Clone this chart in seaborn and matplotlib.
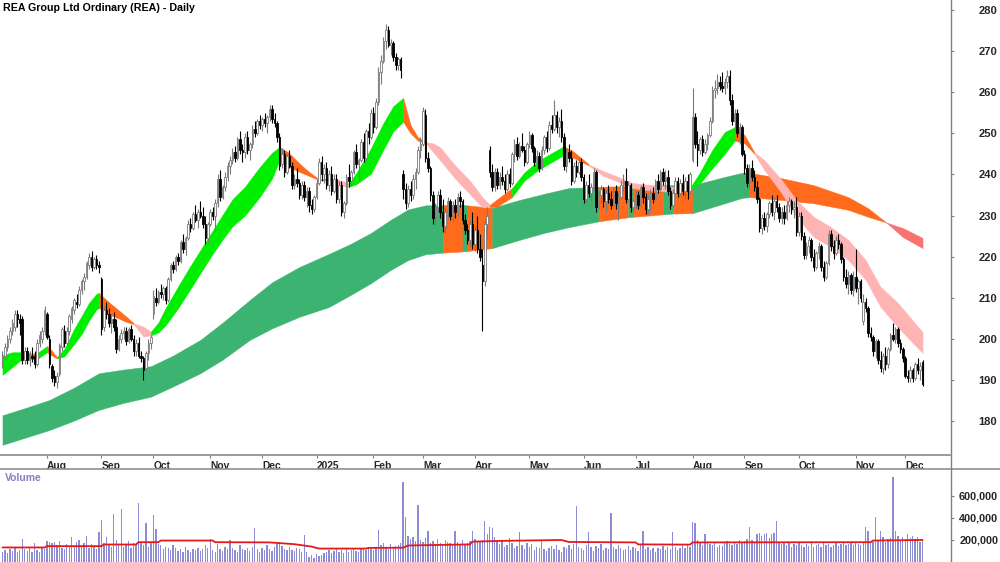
import numpy as np
import pandas as pd
import matplotlib
matplotlib.use("Agg")
import matplotlib.pyplot as plt
from matplotlib.lines import Line2D
import seaborn as sns

# Daily candles, REA (Jul 2024 - Dec 2025)
opens = [
    195, 196, 198, 200, 202, 203, 206, 205, 205, 195,
    197, 195, 196, 196, 194, 199, 200, 202, 206, 200,
    193.5, 191, 189.5, 191.5, 198, 202, 199, 202, 205, 207,
    209, 208.5, 212, 214, 215, 218, 220, 217.5, 219.5, 218,
    214.5, 203, 207, 206, 204, 205, 203, 197.5, 200, 201.5,
    202, 199.5, 202.5, 200, 197, 199, 196, 195.5, 193, 196.5,
    199, 206, 210, 209, 211.5, 211, 212.5, 209.5, 214.5, 218,
    217, 220, 219, 223.5, 222, 224.5, 228, 227, 230.5, 229,
    231, 230, 228, 224.5, 228, 231, 230, 233, 239, 234.5,
    237, 239.5, 242, 243.5, 245.5, 244, 248.5, 246, 245.5, 249,
    246, 247.5, 251, 250, 253, 252, 253.5, 252.5, 254, 256,
    253.5, 252.5, 249, 242.5, 245, 240.5, 244.5, 242, 237.5, 239,
    238, 235, 237.5, 234.5, 236, 232.5, 231.5, 234.5, 238, 243,
    240, 241.5, 237.5, 240, 236, 239, 234, 237.5, 231, 233,
    239.5, 238.5, 240.5, 245.5, 242.5, 243.5, 248, 244, 250.5, 249,
    255, 251.5, 257.5, 265, 267.5, 272.5, 275, 271.5, 272, 268.5,
    266.5, 268, 240, 236.5, 233, 236.5, 235, 239, 240.5, 246,
    247.5, 254.5, 244, 241.5, 235, 229.5, 232, 235, 231, 227.5,
    231, 233.5, 230, 232.5, 231, 234.5, 233.5, 229, 226.5, 224,
    228, 223, 226.5, 222, 218, 214, 228, 246, 240.5, 237,
    240.5, 237.5, 239.5, 238.5, 236.5, 240, 238, 245, 247.5, 244.5,
    247, 246, 243, 247.5, 249.5, 246.5, 243, 244.5, 241.5, 246,
    249, 246.5, 252, 251, 254.5, 251.5, 253, 249, 242, 245.5,
    244, 238.5, 242, 240.5, 243, 239.5, 234, 237.5, 235.5, 237,
    240.5, 232, 235, 236.5, 233.5, 235.5, 234, 232.5, 236, 233,
    234.5, 237.5, 238.5, 234, 237.5, 232, 233.5, 235, 232.5, 237,
    234.5, 231.5, 234, 235.5, 234, 238.5, 236.5, 240.5, 238.5, 239.5,
    236, 232.5, 235.5, 238.5, 235.5, 238, 236, 238.5, 236, 243.5,
    254, 247.5, 246, 248.5, 245.5, 247.5, 249.5, 253, 260.5, 261,
    262.5, 261.5, 261, 262.5, 264, 258, 253, 255, 250, 251.5,
    245, 241.5, 238, 241.5, 239.5, 237, 234, 227, 229.5, 227.5,
    230.5, 233, 231, 233.5, 232, 229.5, 231, 229.5, 232.5, 233.5,
    231.5, 232, 226, 230, 225, 220.5, 222.5, 224, 220, 217.5,
    221, 222.5, 217.5, 215, 218.5, 225.5, 222.5, 221, 224, 223,
    219.5, 215, 213.5, 215.5, 212, 215, 212.5, 214, 204.5, 209,
    207.5, 201.5, 200.5, 197, 199.5, 195, 193, 196, 194, 197.5,
    201, 200, 202.5, 199, 197.5, 195.5, 191, 190.5, 192.5, 190.5,
    194, 192.5, 194.5,
]
highs = [
    197, 199, 201, 203, 205, 207, 207, 206, 205.5, 198,
    198, 197, 198, 197, 200, 202, 203, 208, 206.5, 201,
    194, 192.5, 192, 199, 203, 203.5, 203, 206, 208, 210,
    211, 213, 214.5, 216, 219, 221, 221.5, 220, 220.5, 219,
    215, 208, 209, 207.5, 206, 206.5, 205, 201, 202.5, 203,
    203, 203, 203.5, 201, 200, 200.5, 197, 196, 197, 200,
    201, 212, 212.5, 212, 213.5, 213, 213, 215, 218.5, 219,
    220.5, 221, 224, 225.5, 225, 229, 229.5, 231, 232.5, 231.5,
    233.5, 232, 230, 228.5, 231.5, 232, 234, 240, 241, 237.5,
    240.5, 243, 244.5, 246.5, 247, 249, 250.5, 247.5, 250, 250.5,
    248, 252, 253, 253.5, 254.5, 254, 255, 254.5, 257, 257,
    255, 253, 250, 246.5, 246, 245, 246, 243, 240, 241.5,
    239, 238.5, 238.5, 237, 237, 234, 235, 239, 244, 244.5,
    242.5, 243, 241, 242, 240, 240, 238.5, 238.5, 233.5, 240,
    242.5, 241, 246, 247.5, 244, 248.5, 250, 251, 252.5, 256,
    256.5, 258.5, 266, 269, 273.5, 276.5, 276, 273, 272.5, 269.5,
    268.5, 268.5, 241, 238, 237.5, 238.5, 240, 241.5, 247, 249,
    256.5, 256, 245.5, 242, 236, 233, 236, 236.5, 234, 232,
    234.5, 234, 233.5, 234, 235.5, 236, 234, 230.5, 228, 229,
    231, 227.5, 230, 225.5, 222, 229, 232, 247, 242.5, 241.5,
    241.5, 240.5, 242, 240, 241, 241.5, 245.5, 248.5, 249, 248,
    250, 247, 248, 250.5, 250, 247, 246, 245.5, 247, 249.5,
    250.5, 253, 254.5, 258, 255.5, 254, 256, 250, 246.5, 247.5,
    246, 243, 243.5, 244, 244, 240, 238.5, 240, 238, 241.5,
    241, 236, 237.5, 237, 236.5, 237.5, 236, 237, 237.5, 235.5,
    238.5, 240, 241.5, 238.5, 238, 234, 236, 236, 237.5, 238,
    235.5, 235, 236.5, 237, 239, 240, 241, 241.5, 241, 241,
    237, 236.5, 239.5, 239.5, 239, 240, 239.5, 240, 240.5, 261,
    255, 250.5, 249, 249.5, 248.5, 250, 254, 261.5, 263, 264.5,
    264, 265, 263.5, 265.5, 265.5, 259.5, 256, 256, 252.5, 252,
    246, 242.5, 242.5, 243.5, 241, 238.5, 234.5, 230.5, 231, 231,
    233.5, 235, 234.5, 235, 233, 232, 232.5, 233.5, 234.5, 234,
    233.5, 234.5, 231, 231, 226, 223.5, 225, 224.5, 222, 221.5,
    223.5, 223, 219, 219, 226.5, 226.5, 224, 225, 225.5, 223.5,
    220, 217, 216.5, 216, 216.5, 222, 214.5, 214.5, 211, 210,
    208, 203, 201, 200, 200, 197, 196.5, 198, 198, 201.5,
    204, 203, 203, 200, 198, 196, 192.5, 193.5, 193, 194.5,
    195.5, 194.5, 195,
]
lows = [
    193, 195, 197, 199, 201, 202, 203, 201, 194, 194,
    194, 193.5, 194.5, 193, 193.5, 198, 199, 201, 200, 193,
    189.5, 188.5, 188, 191, 197, 198, 198.5, 201, 204, 206,
    207.5, 208, 211, 212, 214.5, 217, 216.5, 217, 217, 216,
    201, 202, 205, 203, 201.5, 202, 196.5, 197, 199, 200,
    198.5, 199, 199.5, 196, 196, 195.5, 194.5, 190, 192.5, 195,
    197.5, 205, 208, 208.5, 210, 209.5, 208.5, 209, 214, 216,
    216.5, 218, 218.5, 221, 220.5, 224, 226, 226.5, 228.5, 227,
    229.5, 227, 223, 223.5, 227.5, 229, 226, 232, 233.5, 234,
    236, 238.5, 240, 242.5, 243, 243.5, 245, 243, 244, 245,
    243.5, 246.5, 249, 249.5, 251, 250.5, 251.5, 250, 253, 252.5,
    251.5, 248, 241, 241.5, 239.5, 240, 241.5, 236.5, 236.5, 237,
    234, 234, 233.5, 232, 231, 230.5, 231, 234, 237.5, 238.5,
    238, 236.5, 236, 235, 235.5, 233, 233, 230, 229.5, 232.5,
    237, 237.5, 240, 241.5, 238.5, 243, 243, 243.5, 247.5, 248.5,
    250, 251, 257, 262, 267, 270.5, 271, 269, 267.5, 265.5,
    265.5, 263.5, 234, 231.5, 232, 233.5, 234, 236.5, 240, 244,
    247, 243, 240.5, 233.5, 228, 227.5, 231, 229.5, 226, 225.5,
    229.5, 229, 228.5, 229.5, 230, 232, 228, 225.5, 223, 222.5,
    222, 221.5, 221, 219, 202, 213, 224, 239.5, 236, 236,
    236.5, 236.5, 237.5, 235.5, 236, 237, 237.5, 243, 243.5, 244,
    245.5, 242, 242.5, 246.5, 245.5, 242, 241, 240.5, 241, 245,
    245.5, 246, 250, 250.5, 250, 249, 248, 241, 240.5, 243,
    237.5, 238, 239.5, 240, 238.5, 233, 233, 234.5, 233.5, 236,
    231, 231.5, 233, 232, 231, 233, 231.5, 232, 231.5, 229,
    234, 236, 233, 233.5, 231, 230.5, 231.5, 231.5, 232, 233,
    230.5, 230.5, 231, 233, 233.5, 235.5, 236, 237.5, 236.5, 235,
    231.5, 232, 235, 234.5, 235, 235, 233.5, 234, 235.5, 243,
    246.5, 242, 245, 244.5, 245, 246, 249, 252.5, 258.5, 259.5,
    260.5, 260, 259.5, 261, 257, 252, 250.5, 249, 247.5, 244.5,
    240, 237, 236.5, 238.5, 236, 233, 226, 225.5, 226.5, 226,
    229.5, 230, 229, 231, 228.5, 228, 228, 229, 231, 230.5,
    229.5, 225, 225, 224, 219.5, 219.5, 221, 219, 216.5, 217,
    219.5, 216.5, 214, 214.5, 218, 221.5, 219.5, 220.5, 222, 218.5,
    214, 212.5, 211, 211, 210.5, 211.5, 208.5, 209, 203.5, 206.5,
    200.5, 199.5, 196, 195.5, 194, 192, 191.5, 192.5, 193, 197,
    199.5, 199, 198, 196.5, 194.5, 190.5, 189.5, 189.5, 189.5, 190,
    191.5, 190, 188.5,
]
closes = [
    196, 198, 200, 202, 204, 206, 205, 204, 195, 197,
    195, 196.5, 195.5, 194, 199, 201, 202, 207, 200.5, 194,
    190.5, 189.5, 191, 198.5, 202.5, 199, 202, 205.5, 207.5, 209.5,
    208.5, 212, 214, 215, 218.5, 220, 217.5, 219.5, 218, 217.5,
    202.5, 207, 206, 204, 205, 203, 197.5, 200, 201.5, 202,
    199.5, 202.5, 200, 197, 199, 196, 195.5, 192.5, 196.5, 199,
    200.5, 210.5, 209, 211.5, 211, 212.5, 209.5, 214.5, 218, 217,
    220, 219, 223.5, 222, 224.5, 228, 227, 230.5, 229, 231,
    230, 228, 224.5, 228, 231, 230, 233, 239, 234.5, 237,
    239.5, 242, 243.5, 245.5, 244, 248.5, 246, 245.5, 249, 246,
    247.5, 251, 250, 253, 252, 253.5, 252.5, 254, 256, 253.5,
    252.5, 249, 242, 245, 240.5, 244.5, 242, 237.5, 239, 238,
    235, 237.5, 234.5, 236, 232.5, 231.5, 234.5, 238, 243, 240,
    241.5, 237.5, 240, 236, 239, 234, 237.5, 231, 233, 239.5,
    238.5, 240.5, 245.5, 242.5, 243.5, 248, 244, 250.5, 249, 255,
    251.5, 257.5, 265, 267.5, 272.5, 275, 271.5, 272, 268.5, 266.5,
    268, 265.5, 236.5, 233, 236.5, 235, 239, 240.5, 246, 247.5,
    255.5, 244, 241.5, 235, 229.5, 232, 235, 231, 227.5, 231,
    233.5, 230, 232.5, 231, 234.5, 233.5, 229, 226.5, 224, 228,
    223, 226.5, 222, 220, 214, 228, 230, 240.5, 237, 240.5,
    237.5, 239.5, 238.5, 236.5, 240, 238, 245, 247.5, 244.5, 247,
    246, 243, 247.5, 249.5, 246.5, 243, 244.5, 241.5, 246, 249,
    246.5, 252, 251, 254.5, 251.5, 253, 249, 242, 245.5, 244,
    238.5, 242, 240.5, 243, 239.5, 234, 237.5, 235.5, 237, 240.5,
    232, 235, 236.5, 233.5, 235.5, 234, 232.5, 236, 233, 234.5,
    237.5, 238.5, 234, 237.5, 232, 233.5, 235, 232.5, 237, 234.5,
    231.5, 234, 235.5, 234, 238.5, 236.5, 240.5, 238.5, 239.5, 236,
    232.5, 235.5, 238.5, 235.5, 238, 236, 238.5, 236, 240, 254,
    247.5, 246, 248.5, 245.5, 247.5, 249.5, 253, 260.5, 261, 262.5,
    261.5, 261, 262.5, 264, 258, 253, 255, 250, 251.5, 245,
    241.5, 238, 241.5, 239.5, 237, 234, 227, 229.5, 227.5, 230.5,
    233, 231, 233.5, 232, 229.5, 231, 229.5, 232.5, 233.5, 231.5,
    232, 226, 230, 225, 220.5, 222.5, 224, 220, 217.5, 221,
    222.5, 217.5, 215, 218.5, 225.5, 222.5, 221, 224, 223, 219.5,
    215, 213.5, 215.5, 212, 215, 212.5, 214, 210, 209, 207.5,
    201.5, 200.5, 197, 199.5, 195, 193, 196, 194, 197.5, 201,
    200, 202.5, 199, 197.5, 195.5, 191, 190.5, 192.5, 190.5, 194,
    192.5, 193.5, 189,
]

# Daily volume in thousands of shares
volume_k = [
    95, 110, 85, 120, 100, 130, 90, 105, 205, 115,
    100, 125, 90, 170, 110, 95, 140, 120, 190, 180,
    175, 185, 150, 190, 130, 120, 160, 145, 230, 140,
    180, 203, 150, 170, 239, 130, 160, 145, 120, 269,
    382, 175, 230, 150, 140, 436, 200, 160, 482, 140,
    150, 195, 130, 170, 160, 536, 180, 150, 351, 140,
    170, 427, 300, 160, 150, 120, 140, 130, 110, 150,
    125, 100, 115, 95, 140, 110, 90, 120, 105, 130,
    100, 115, 150, 130, 209, 110, 95, 160, 120, 100,
    140, 115, 200, 130, 105, 90, 150, 120, 110, 125,
    100, 140, 306, 115, 95, 130, 110, 150, 120, 100,
    135, 160, 180, 145, 120, 105, 140, 110, 100, 130,
    115, 95, 248, 90, 45, 60, 40, 70, 55, 65,
    80, 95, 110, 85, 100, 120, 90, 105, 80, 115,
    95, 110, 125, 100, 90, 130, 115, 105, 140, 120,
    110, 135, 291, 150, 175, 140, 120, 160, 130, 145,
    155, 170, 731, 406, 240, 210, 230, 190, 521, 200,
    180, 220, 285, 170, 190, 160, 210, 175, 150, 200,
    185, 170, 165, 285, 180, 150, 200, 160, 175, 190,
    285, 210, 180, 195, 200, 369, 250, 318, 310, 230,
    180, 160, 195, 140, 150, 215, 170, 130, 145, 269,
    150, 120, 175, 135, 160, 110, 140, 125, 190, 115,
    100, 130, 145, 120, 155, 110, 95, 140, 125, 150,
    120, 160, 506, 140, 130, 110, 150, 269, 135, 100,
    145, 125, 160, 110, 130, 120, 442, 140, 115, 150,
    130, 105, 120, 145, 110, 135, 125, 100, 150, 278,
    120, 140, 110, 130, 95, 125, 115, 145, 105, 135,
    120, 269, 140, 110, 130, 150, 125, 160, 140, 361,
    351, 200, 175, 150, 254, 180, 160, 150, 170, 140,
    155, 145, 170, 190, 160, 150, 180, 165, 200, 175,
    190, 210, 321, 200, 185, 250, 265, 240, 255, 260,
    220, 250, 260, 375, 180, 160, 175, 150, 170, 140,
    165, 150, 180, 155, 140, 160, 145, 170, 135, 150,
    160, 140, 175, 150, 165, 135, 155, 180, 145, 160,
    170, 150, 165, 185, 155, 175, 160, 150, 170, 315,
    278, 190, 180, 412, 200, 285, 230, 180, 210, 220,
    771, 285, 240, 200, 230, 210, 250, 220, 240, 210,
    230, 180, 210,
]

# Volume moving average (red line), read at its turning points
volma_idx = [0, 17, 18, 40, 41, 54, 55, 63, 64, 85, 86, 108, 118, 125, 128,
             147, 148, 162, 164, 189, 190, 202, 226, 229, 256, 257, 278, 279,
             351, 352, 372]
volma_k = [132, 132, 144, 144, 159, 159, 180, 180, 195, 195, 180, 178, 162, 140, 122,
           122, 128, 130, 150, 160, 185, 192, 200, 182, 178, 160, 158, 178,
           180, 195, 200]

# Short-term ribbon edges and trend state (G up, O mixed, P down)
short_idx = [0, 4, 8, 11, 14, 18, 20, 22, 25, 29, 32, 35, 38, 39, 43, 47, 50, 53, 57, 60,
             63, 66, 71, 76, 80, 85, 89, 93, 98, 104, 109, 112, 116, 119, 123, 128, 133, 137, 140, 143,
             149, 154, 158, 162, 165, 168, 171, 174, 177, 183, 189, 194, 197, 200, 206, 211, 216, 220, 227, 231,
             237, 243, 247, 255, 263, 271, 278, 282, 287, 292, 296, 300, 304, 308, 315, 321, 328, 335, 342, 349,
             355, 362, 372]
short_hi = [196.1, 196.8, 196.8, 196.4, 196.6, 198.3, 197.2, 195.6, 197.6, 202.5, 205.6, 208.8, 211.0, 211.2, 209.0, 207.0, 205.5, 203.9, 203.0, 201.8,
            204.0, 207.6, 212.8, 217.8, 221.6, 226.4, 230.2, 234.0, 237.0, 241.8, 245.3, 246.7, 245.2, 243.3, 241.1, 238.8, 239.0, 238.5, 237.9, 240.3,
            246.4, 252.5, 256.6, 258.6, 252.0, 249.0, 247.9, 247.6, 246.6, 242.2, 238.5, 234.5, 232.6, 234.0, 236.7, 240.5, 243.0, 244.5, 246.9, 245.5,
            242.5, 240.8, 239.9, 237.9, 237.4, 237.0, 236.8, 240.5, 246.0, 250.3, 251.5, 249.6, 245.4, 243.5, 238.7, 233.8, 229.7, 227.2, 224.1, 219.2,
            212.7, 208.8, 201.7]
short_lo = [191.3, 193.2, 195.2, 195.2, 195.1, 196.8, 196.0, 195.3, 195.8, 198.8, 201.2, 204.5, 207.2, 207.6, 206.0, 205.0, 204.2, 203.6, 200.6, 200.9,
            201.6, 203.4, 207.5, 212.2, 216.0, 220.7, 224.2, 227.4, 230.0, 234.5, 239.0, 243.5, 241.8, 240.9, 239.9, 238.6, 238.6, 237.3, 237.0, 237.6,
            240.2, 246.0, 250.5, 252.8, 250.0, 248.2, 247.7, 245.5, 243.4, 239.0, 235.2, 232.0, 232.0, 232.2, 234.5, 238.5, 240.8, 242.3, 244.7, 244.0,
            242.2, 239.6, 238.7, 236.7, 236.0, 235.8, 236.4, 237.8, 241.5, 245.0, 248.2, 247.6, 245.0, 241.1, 235.5, 229.7, 224.8, 222.4, 219.2, 214.4,
            207.8, 202.9, 196.6]
short_state = list("GGOOGOOGGGGGGOOOOPPG"
                   "GGGGGGGGGGGOOOOGPPGG"
                   "GGGOOOPPPPPPOOGGGGOO"
                   "PPPPPPGGGGOOPPPPPPPP"
                   "PPP")

# Long-term ribbon edges and trend state (G up, O mixed, R down)
long_idx = [0, 9, 19, 29, 39, 49, 60, 69, 80, 89, 100, 109, 120, 132, 141, 149, 157, 164, 171, 178,
            186, 188, 198, 209, 219, 229, 241, 253, 255, 267, 271, 279, 292, 299, 302, 315, 328, 342, 350, 357,
            364, 372]
long_hi = [181.5, 183.2, 185.2, 188.2, 191.7, 192.6, 193.4, 196.0, 199.8, 204.0, 209.5, 213.8, 217.5, 220.7, 223.2, 225.8, 229.0, 231.5, 232.5, 232.6,
           232.6, 232.5, 231.9, 233.8, 235.3, 236.7, 237.0, 237.2, 237.2, 237.4, 237.4, 237.4, 239.4, 240.4, 240.4, 239.1, 237.4, 234.5, 231.8, 228.5,
           224.8, 222.1]
long_lo = [174.3, 176.0, 177.9, 180.2, 182.8, 184.5, 186.0, 188.5, 191.7, 195.0, 199.8, 202.6, 205.4, 207.8, 210.8, 213.6, 216.8, 219.2, 220.6, 221.0,
           221.3, 221.4, 222.1, 224.1, 225.8, 227.2, 228.6, 229.6, 229.7, 230.3, 230.5, 230.6, 233.0, 234.3, 234.5, 233.8, 233.0, 231.4, 229.7, 228.4,
           227.0, 224.6]
long_state = list("GGGGGGGGGGGGGGGGGGGO"
                  "GOGGGGOGOGOGGGOOOOOR"
                  "RR")

price_ticks = [180, 190, 200, 210, 220, 230, 240, 250, 260, 270, 280]
volume_ticks = [200000, 400000, 600000]

short_colors = {"G": "#00ee00", "O": "#ff6a1c", "P": "#ffb4b4"}
long_colors = {"G": "#3cb371", "O": "#ff6a1c", "R": "#f87272"}

assert len(opens) == len(highs) == len(lows) == len(closes) == len(volume_k)

sns.set_theme(style="white")
plt.rcParams["font.family"] = ["Liberation Sans", "DejaVu Sans"]

n = len(closes)
dates = pd.bdate_range(end="2025-12-10", periods=n)
df = pd.DataFrame({"date": dates, "open": opens, "high": highs, "low": lows,
                   "close": closes, "volume": np.array(volume_k) * 1000})
df["i"] = np.arange(n)

fig = plt.figure(figsize=(10, 5.62), dpi=100)
ax = fig.add_axes([0, 107 / 562, 0.951, 455 / 562])
axv = fig.add_axes([0, 0, 0.951, 93 / 562])


def draw_ribbon(axis, idx, hi, lo, states, colors, z):
    a = 0
    for k in range(1, len(idx)):
        if k == len(idx) - 1 or states[k] != states[a]:
            col = colors[states[a]]
            axis.fill_between(idx[a:k + 1], lo[a:k + 1], hi[a:k + 1],
                              color=col, ec=col, lw=0.3, zorder=z)
            a = k


draw_ribbon(ax, long_idx, long_hi, long_lo, long_state, long_colors, 1)
draw_ribbon(ax, short_idx, short_hi, short_lo, short_state, short_colors, 2)

# candles
up = df["close"] >= df["open"]
dn = ~up
ax.vlines(df.loc[up, "i"], df.loc[up, "low"], df.loc[up, "high"], color="#7a7a7a", lw=0.8, zorder=3)
ax.vlines(df.loc[dn, "i"], df.loc[dn, "low"], df.loc[dn, "high"], color="black", lw=0.8, zorder=3)
ax.bar(df.loc[up, "i"], df.loc[up, "close"] - df.loc[up, "open"], bottom=df.loc[up, "open"],
       width=0.62, color="white", edgecolor="#7a7a7a", lw=0.6, zorder=4)
ax.bar(df.loc[dn, "i"], df.loc[dn, "open"] - df.loc[dn, "close"], bottom=df.loc[dn, "close"],
       width=0.62, color="black", edgecolor="black", lw=0.6, zorder=4)

# volume
axv.bar(df["i"], df["volume"], width=0.55, color="#8c8cd4", lw=0)
sns.lineplot(x=volma_idx, y=np.array(volma_k) * 1000, ax=axv, color="#e4191c", lw=1.3)

# month ticks
month_pos, month_lab = [], []
for k in range(1, n):
    if dates[k].month != dates[k - 1].month:
        month_pos.append(k)
        month_lab.append(str(dates[k].year) if dates[k].month == 1 else dates[k].strftime("%b"))

for a in (ax, axv):
    a.set_xlim(-1, 383.5)
    a.set_facecolor("white")
    for s in ("top", "left"):
        a.spines[s].set_visible(False)
    a.spines["right"].set_color("#808080")
    a.spines["right"].set_linewidth(1.0)
    a.yaxis.tick_right()
    a.set_xlabel("")
    a.set_ylabel("")

ax.set_ylim(171.83, 282.4)
ax.spines["bottom"].set_color("#9a9a9a")
ax.spines["bottom"].set_linewidth(1.4)
ax.set_xticks(month_pos)
ax.set_xticklabels(month_lab, ha="left", fontweight="bold", fontsize=7.4)
ax.tick_params(axis="x", length=2.5, width=0.8, color="#808080", pad=1.5, direction="out", bottom=True)
ax.set_yticks(price_ticks)
ax.set_yticklabels([str(t) for t in price_ticks], fontweight="bold", fontsize=8)
ax.tick_params(axis="y", length=2.5, width=0.8, color="#808080", pad=30.6, direction="out", right=True)
for lbl in ax.get_yticklabels():
    lbl.set_horizontalalignment("right")

axv.set_ylim(0, 845000)
axv.spines["bottom"].set_visible(False)
axv.set_xticks([])
axv.set_yticks(volume_ticks)
axv.set_yticklabels([f"{t:,}" for t in volume_ticks], fontweight="bold", fontsize=7.8)
axv.tick_params(axis="y", length=2.5, width=0.8, color="#808080", pad=31.5, direction="out", right=True)
for lbl in axv.get_yticklabels():
    lbl.set_horizontalalignment("right")

# separator lines between the panels
fig.add_artist(Line2D([0, 1], [93 / 562, 93 / 562], transform=fig.transFigure, color="#909090", lw=1.2))
fig.add_artist(Line2D([0.951, 0.951], [93 / 562, 107 / 562], transform=fig.transFigure, color="#808080", lw=1.0))

fig.text(0.003, 1 - 8 / 562, "REA Group Ltd Ordinary (REA) - Daily", fontsize=7.7,
         fontweight="bold", va="center", ha="left", color="black")
fig.text(0.005, (562 - 478) / 562, "Volume", fontsize=7.4, fontweight="bold",
         va="center", ha="left", color="#8080c0")

fig.savefig("out.png", dpi=100)
